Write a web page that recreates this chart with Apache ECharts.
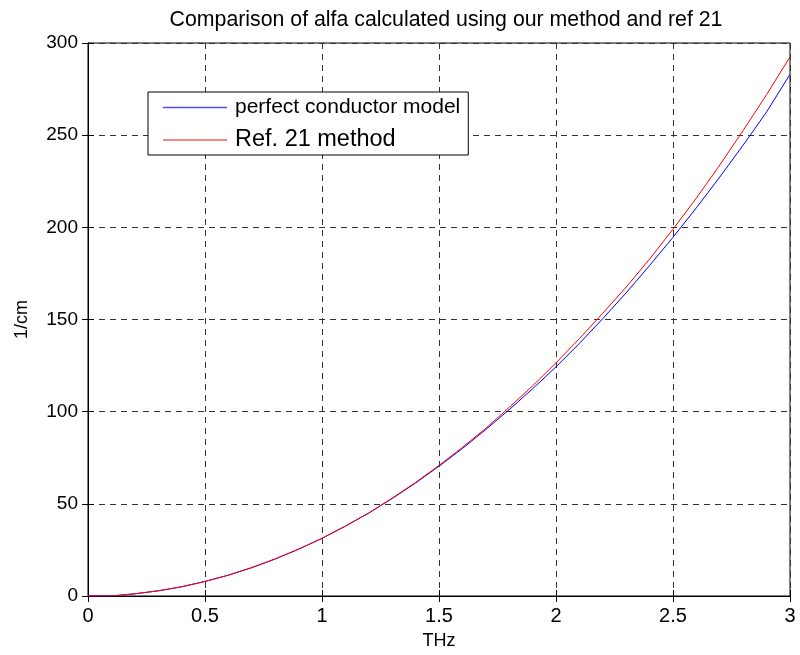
<!DOCTYPE html>
<html>
<head>
<meta charset="utf-8">
<script src="https://cdn.jsdelivr.net/npm/echarts@6/dist/echarts.min.js"></script>
<style>
  html, body { margin: 0; padding: 0; background: #fff; }
  #main { width: 800px; height: 655px; }
</style>
</head>
<body>
<div id="main"></div>
<script>
// frequency (THz)
var freq = [0, 0.1, 0.2, 0.3, 0.4, 0.5, 0.6, 0.7, 0.8, 0.9, 1.0,
            1.1, 1.2, 1.3, 1.4, 1.5, 1.6, 1.7, 1.8, 1.9, 2.0,
            2.1, 2.2, 2.3, 2.4, 2.5, 2.6, 2.7, 2.8, 2.9, 3.0];
// perfect conductor model (1/cm)
var perfect = [0, 0, 1.2, 2.8, 5.0, 7.9, 11.3, 15.4, 20.1, 25.4, 31.3,
               37.9, 45.0, 52.9, 61.3, 70.4, 80.0, 90.3, 101.1, 112.4, 124.3,
               137.0, 150.5, 164.5, 179.3, 194.6, 210.6, 227.3, 244.6, 262.6, 283.0];
// Ref. 21 method (1/cm)
var ref21 = [0, 0, 1.2, 2.8, 5.0, 7.9, 11.3, 15.4, 20.1, 25.4, 31.3,
             37.9, 45.1, 53.1, 61.6, 70.8, 80.6, 91.0, 102.3, 114.0, 126.5,
             139.6, 153.4, 167.6, 182.8, 199.0, 215.9, 233.8, 252.6, 272.0, 292.5];

var xTicks = ['0', '0.5', '1', '1.5', '2', '2.5', '3'];

function pairs(xs, ys) {
  return xs.map(function (x, i) { return [x, ys[i]]; });
}

var chart = echarts.init(document.getElementById('main'));

var gridDash = { color: '#333', type: [6, 5], width: 1 };

chart.setOption({
  animation: false,
  backgroundColor: '#fff',
  textStyle: { fontFamily: 'Liberation Sans, Arial, sans-serif', color: '#000' },
  title: {
    text: 'Comparison of alfa calculated using our method and ref 21',
    left: 441,
    textAlign: 'center',
    top: 5,
    textStyle: { fontSize: 21.3, fontWeight: 'normal', color: '#000' }
  },
  grid: {
    left: 88, right: 10, top: 43, bottom: 58,
    show: true, borderColor: '#000', borderWidth: 1
  },
  legend: {
    orient: 'vertical',
    left: 148, top: 92,
    padding: [5, 8, 3, 15],
    itemGap: 10,
    itemWidth: 64,
    itemHeight: 1.5,
    icon: 'rect',
    backgroundColor: '#fff',
    borderColor: '#000',
    borderWidth: 1,
    data: [
      { name: 'perfect conductor model', itemStyle: { color: '#4d4dff' },
        textStyle: { fontSize: 21, padding: [0, 0, 0, 3] } },
      { name: 'Ref. 21 method', itemStyle: { color: '#ff5c5c' },
        textStyle: { fontSize: 23.5, padding: [0, 0, 0, 3] } }
    ],
    textStyle: { color: '#000' }
  },
  xAxis: [{
    type: 'value',
    min: 0, max: 3, interval: 0.5,
    name: 'THz',
    nameLocation: 'middle',
    nameGap: 36,
    nameMoveOverlap: false,
    nameTextStyle: { fontSize: 18, color: '#000', verticalAlign: 'top' },
    axisLine: { lineStyle: { color: '#000' } },
    axisTick: { inside: true, length: 6, lineStyle: { color: '#000' } },
    axisLabel: {
      fontSize: 20, color: '#000', margin: 10,
      formatter: function (v) { return xTicks[Math.round(v * 2)]; }
    },
    splitLine: { show: true, lineStyle: gridDash }
  }, {
    type: 'value', position: 'top',
    min: 0, max: 3, interval: 0.5,
    axisLine: { show: true, lineStyle: { color: '#000' } },
    axisTick: { inside: true, length: 6, lineStyle: { color: '#000' } },
    axisLabel: { show: false },
    splitLine: { show: false }
  }],
  yAxis: [{
    type: 'value',
    min: 0, max: 300, interval: 50,
    name: '1/cm',
    nameLocation: 'middle',
    nameGap: 57,
    nameTextStyle: { fontSize: 18, color: '#000' },
    axisLine: { show: true, lineStyle: { color: '#000' } },
    axisTick: { show: true, inside: true, length: 6, lineStyle: { color: '#000' } },
    axisLabel: { fontSize: 19, color: '#000', margin: 10 },
    splitLine: { show: true, lineStyle: gridDash }
  }, {
    type: 'value', position: 'right',
    min: 0, max: 300, interval: 50,
    axisLine: { show: true, lineStyle: { color: '#000' } },
    axisTick: { show: true, inside: true, length: 6, lineStyle: { color: '#000' } },
    axisLabel: { show: false },
    splitLine: { show: false }
  }],
  series: [{
    name: 'perfect conductor model',
    type: 'line',
    data: pairs(freq, perfect),
    showSymbol: false,
    symbol: 'none',
    itemStyle: { color: '#0000ff' },
    lineStyle: { color: '#0000ff', width: 1 }
  }, {
    name: 'Ref. 21 method',
    type: 'line',
    data: pairs(freq, ref21),
    showSymbol: false,
    symbol: 'none',
    itemStyle: { color: '#ff0000' },
    lineStyle: { color: '#ff0000', width: 1 }
  }]
});
</script>
</body>
</html>
